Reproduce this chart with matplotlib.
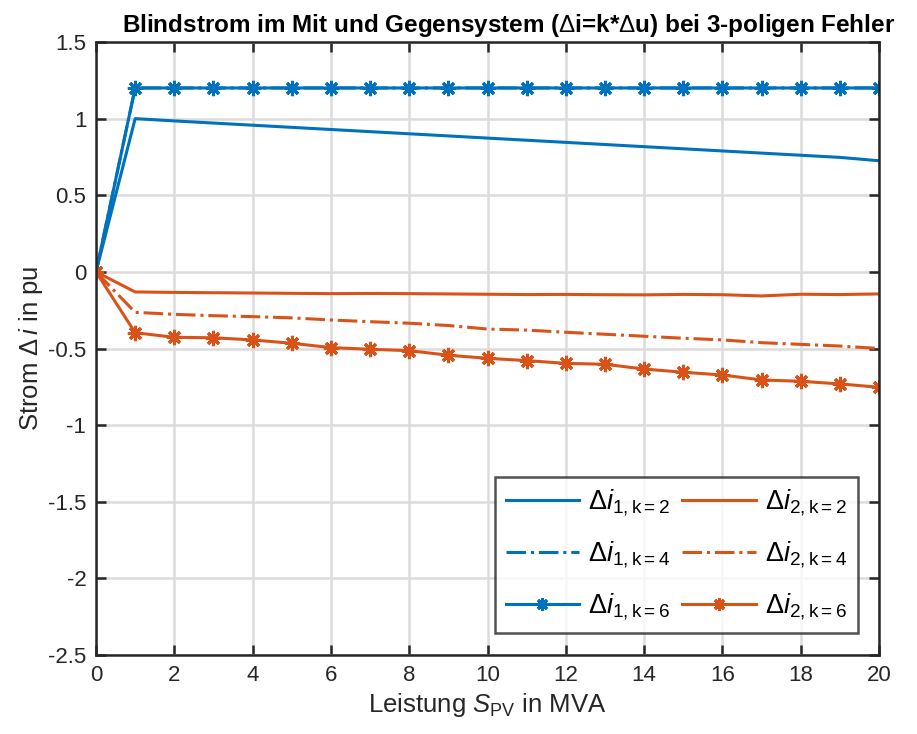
import matplotlib
matplotlib.use("Agg")
import matplotlib.pyplot as plt
import numpy as np

plt.rcParams['font.family'] = ['Liberation Sans', 'DejaVu Sans']
plt.rcParams['mathtext.fontset'] = 'custom'
plt.rcParams['mathtext.rm'] = 'Liberation Sans'
plt.rcParams['mathtext.it'] = 'Liberation Sans:italic'
plt.rcParams['mathtext.bf'] = 'Liberation Sans:bold'

# Installed PV power in MVA
s_pv = list(range(0, 21))

# Positive-sequence reactive current for k = 2, 4, 6
di1_k2 = [0, 1.0, 0.985, 0.971, 0.957, 0.943, 0.929, 0.915, 0.901, 0.887, 0.873,
          0.859, 0.845, 0.831, 0.817, 0.803, 0.789, 0.775, 0.761, 0.747, 0.725]
di1_k4 = [0] + [1.2] * 20
di1_k6 = [0] + [1.2] * 20

# Negative-sequence reactive current for k = 2, 4, 6
di2_k2 = [0, -0.131, -0.134, -0.136, -0.138, -0.140, -0.142, -0.141, -0.142, -0.144, -0.146,
          -0.148, -0.147, -0.149, -0.150, -0.147, -0.149, -0.157, -0.146, -0.148, -0.144]
di2_k4 = [0, -0.264, -0.277, -0.286, -0.292, -0.300, -0.314, -0.325, -0.335, -0.350, -0.373,
          -0.380, -0.394, -0.407, -0.420, -0.433, -0.444, -0.462, -0.473, -0.484, -0.500]
di2_k6 = [0, -0.397, -0.427, -0.430, -0.444, -0.466, -0.494, -0.505, -0.514, -0.544, -0.564,
          -0.579, -0.597, -0.603, -0.634, -0.655, -0.673, -0.705, -0.714, -0.731, -0.753]

labels = [r'$\Delta \mathit{i}_{\mathrm{1,k{=}2}}$', r'$\Delta \mathit{i}_{\mathrm{1,k{=}4}}$',
          r'$\Delta \mathit{i}_{\mathrm{1,k{=}6}}$', r'$\Delta \mathit{i}_{\mathrm{2,k{=}2}}$',
          r'$\Delta \mathit{i}_{\mathrm{2,k{=}4}}$', r'$\Delta \mathit{i}_{\mathrm{2,k{=}6}}$']

blue = '#0072BD'
orange = '#D95319'
axcol = '#262626'
lw = 2.2
asterisk = (8, 2, 0)

fig = plt.figure(figsize=(9.17, 7.34), dpi=100)
ax = fig.add_axes([0.1047, 0.1076, 0.8539, 0.8352])

ax.plot(s_pv, di1_k2, color=blue, lw=lw, label=labels[0])
ax.plot(s_pv, di1_k4, color=blue, lw=lw, ls='-.', label=labels[1])
ax.plot(s_pv, di1_k6, color=blue, lw=lw, marker=asterisk, ms=11, mew=2.2, label=labels[2])
ax.plot(s_pv, di2_k2, color=orange, lw=lw, label=labels[3])
ax.plot(s_pv, di2_k4, color=orange, lw=lw, ls='-.', label=labels[4])
ax.plot(s_pv, di2_k6, color=orange, lw=lw, marker=asterisk, ms=11, mew=2.2, label=labels[5])

ax.set_xlim(0, 20)
ax.set_ylim(-2.5, 1.5)
ax.set_xticks(np.arange(0, 21, 2))
ax.set_yticks(np.arange(-2.5, 1.51, 0.5))
ax.set_yticklabels(['-2.5', '-2', '-1.5', '-1', '-0.5', '0', '0.5', '1', '1.5'])

ax.grid(True, color='#dcdcdc', lw=1.8)
ax.set_axisbelow(True)
for sp in ax.spines.values():
    sp.set_color(axcol)
    sp.set_linewidth(1.8)
ax.tick_params(direction='in', length=7, width=1.8, colors=axcol,
               labelsize=16, top=True, right=True, pad=7)

ax.set_title(r'Blindstrom im Mit und Gegensystem ($\Delta$i=k*$\Delta$u) bei 3-poligen Fehler',
             fontsize=17.5, fontweight='bold', x=0.527, pad=7)
ax.set_xlabel(r'Leistung $\mathit{S}_{\mathrm{PV}}$ in MVA', fontsize=18.5, color=axcol, labelpad=4)
ax.set_ylabel(r'Strom $\Delta\,\mathit{i}$ in pu', fontsize=18.5, color=axcol, labelpad=2)

leg = ax.legend(ncol=2, loc='lower right', bbox_to_anchor=(0.973, 0.036), fontsize=19.5,
                frameon=True, fancybox=False, edgecolor=axcol, handlelength=2.7,
                handletextpad=0.35, columnspacing=0.45, labelspacing=0.78, borderpad=0.4,
                borderaxespad=0.0)
leg.get_frame().set_linewidth(1.8)
for lh in leg.legend_handles:
    lh.set_markersize(9)

fig.savefig('out.png', dpi=100)
